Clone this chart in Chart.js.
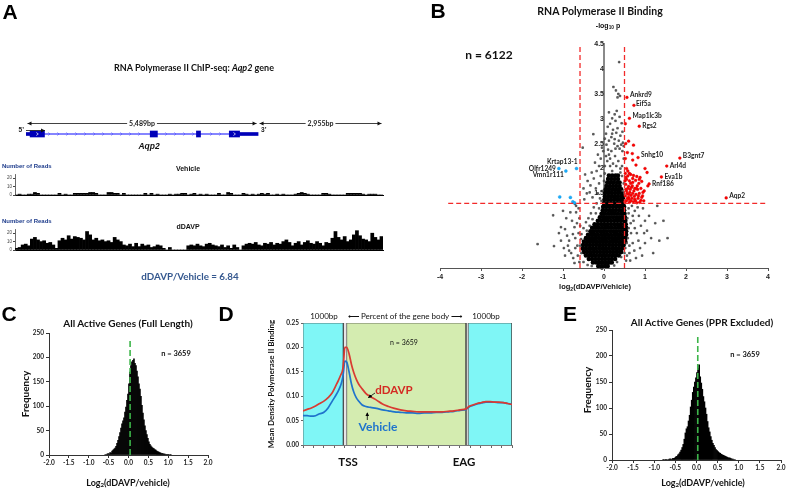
<!DOCTYPE html>
<html>
<head>
<meta charset="utf-8">
<script src="https://cdn.jsdelivr.net/npm/chart.js@4.4.1/dist/chart.umd.min.js"></script>
<style>
html,body{margin:0;padding:0;background:#fff;}
#fig{position:relative;width:787px;height:489px;overflow:hidden;background:#fff;}
#fig canvas{position:absolute;z-index:1;}
.t{position:absolute;z-index:3;white-space:nowrap;line-height:1;transform:translate(-50%,-50%);font-weight:bold;color:#111;font-family:Lato,sans-serif;}
.l{transform:translate(0,-50%);}
.ar{font-family:'Liberation Sans',Arial,sans-serif;}
.rot{transform:translate(-50%,-50%) rotate(-90deg);}
.letter{font-family:'Liberation Sans',Arial,sans-serif;font-size:21px;color:#000;}
.n{font-weight:normal;}
sub{font-size:68%;vertical-align:-0.25em;line-height:0;}
svg{position:absolute;left:0;top:0;z-index:2;}
</style>
</head>
<body>
<div id="fig">
<div class="t letter" style="left:10px;top:11px">A</div>
<div class="t letter" style="left:438px;top:10px">B</div>
<div class="t letter" style="left:9px;top:313px">C</div>
<div class="t letter" style="left:226px;top:313px">D</div>
<div class="t letter" style="left:570px;top:313px">E</div>

<div class="t" style="left:194px;top:67px;font-size:9px">RNA Polymerase II ChIP-seq: <i>Aqp2</i> gene</div>
<div class="t ar" style="left:149px;top:146px;font-size:8.5px;font-style:italic">Aqp2</div>
<div class="t ar l" style="left:2px;top:166px;font-size:6px;color:#1f3d8c">Number of Reads</div>
<div class="t ar" style="left:188px;top:168px;font-size:7px">Vehicle</div>
<div class="t ar l" style="left:2px;top:221px;font-size:6px;color:#1f3d8c">Number of Reads</div>
<div class="t ar" style="left:188px;top:225.5px;font-size:7px">dDAVP</div>
<div class="t" style="left:190px;top:277px;font-size:9.8px;color:#35588f">dDAVP/Vehicle = 6.84</div>

<div class="t" style="left:600px;top:11px;font-size:10.5px">RNA Polymerase II Binding</div>
<div class="t ar" style="left:608px;top:25px;font-size:7px">-log<sub>10</sub> p</div>
<div class="t" style="left:489px;top:55px;font-size:12px">n = 6122</div>
<div class="t ar" style="left:595px;top:287px;font-size:7.5px">log<sub>2</sub>(dDAVP/Vehicle)</div>

<div class="t" style="left:128px;top:323px;font-size:10px">All Active Genes (Full Length)</div>
<div class="t" style="left:176px;top:354px;font-size:7.5px">n = 3659</div>
<div class="t rot" style="left:25px;top:394px;font-size:10px">Frequency</div>
<div class="t" style="left:128px;top:482px;font-size:9px">Log<sub>2</sub>(dDAVP/vehicle)</div>

<div class="t n" style="left:324px;top:316px;font-size:8px">1000bp</div>
<div class="t n" style="left:405px;top:316px;font-size:8px">⟵ Percent of the gene body ⟶</div>
<div class="t n" style="left:486px;top:316px;font-size:8px">1000bp</div>
<div class="t n" style="left:404px;top:342px;font-size:7px">n = 3659</div>
<div class="t" style="left:394px;top:390px;font-size:11.5px;color:#d42a22">dDAVP</div>
<div class="t" style="left:378px;top:427px;font-size:12px;color:#1f74cc">Vehicle</div>
<div class="t" style="left:348px;top:462px;font-size:11.5px">TSS</div>
<div class="t" style="left:464px;top:462px;font-size:11.5px">EAG</div>
<div class="t rot" style="left:271px;top:384px;font-size:8px">Mean Density Polymerase II Binding</div>

<div class="t" style="left:702px;top:322px;font-size:10px">All Active Genes (PPR Excluded)</div>
<div class="t" style="left:745px;top:355px;font-size:7.5px">n = 3659</div>
<div class="t rot" style="left:587px;top:390px;font-size:10px">Frequency</div>
<div class="t" style="left:703px;top:482px;font-size:9px">Log<sub>2</sub>(dDAVP/vehicle)</div>

<svg width="787" height="489">
<defs><marker id="ah" viewBox="0 0 6 6" refX="5" refY="3" markerWidth="5" markerHeight="5" orient="auto"><path d="M0,0L6,3L0,6z" fill="#000"/></marker></defs>
<line x1="375" y1="393" x2="368.5" y2="397.5" stroke="#000" stroke-width="0.8" marker-end="url(#ah)"/>
<line x1="367.3" y1="420" x2="367.3" y2="413" stroke="#000" stroke-width="0.8" marker-end="url(#ah)"/>
</svg>
</div>
<script>
// ================= DATA =================
// Panel A: gene model (bp) and read tracks
const geneLengthBp = 5489;
const downstreamBp = 2955;
const exonRegions = [[97,437],[2938,3108],[4031,4128],[4808,5052]];
const utrRegions = [[0,97],[5052,5489]];
const intronRegions = [[437,4808]];
const vehicleReads = [0,1,0,0,1,1,3,2,0,0, 0,0,0,0,2,0,1,0,0,2, 2,2,2,2,3,3,2,0,0,0, 3,3,2,2,0,2,0,0,0,0,
  0,0,2,0,2,0,1,0,0,0, 1,0,1,1,2,2,0,1,2,0, 1,0,1,0,0,0,2,0,0,3, 2,0,0,0,2,1,0,1,0,1,
  2,1,2,0,0,1,0,1,0,0, 0,1,2,3,2,1,0,0,0,0, 2,2,1,0,0,0,0,0,2,2, 2,2,2,1,0,1,1,1,0,0];
const ddavpReads = [2,3,6,7,5,13,15,12,10,11, 8,9,6,2,11,14,12,17,13,16, 15,14,12,22,18,12,14,11,12,10,
  11,9,15,12,10,6,5,7,4,8, 4,7,5,6,3,4,6,5,2,0, 3,0,0,0,0,0,5,6,5,7, 5,4,7,8,6,5,4,6,3,5,
  2,6,3,0,5,7,8,7,9,6, 5,8,7,9,6,8,7,10,12,9, 5,8,10,6,9,11,8,7,10,8, 5,9,8,14,22,15,12,16,10,12,
  18,23,17,13,12,10,20,15,12,16];

// Panel B: volcano plot [log2 ratio, -log10 p]
const bFoldThresholds = [-0.585, 0.5];
const bPThreshold = 1.3;
const bLabeled = [
  ['Ankrd9',0.56,3.43,'up'],['Eif5a',0.73,3.27,'up'],['Map1lc3b',0.62,3.01,'up'],['Rgs2',0.86,2.85,'up'],
  ['Snhg10',0.83,2.22,'up'],['B3gnt7',1.85,2.21,'up'],['Arl4d',1.53,2.05,'up'],['Eva1b',1.40,1.83,'up'],
  ['Rnf186',1.10,1.69,'up'],['Aqp2',2.98,1.41,'up'],
  ['Krtap13-1',-0.67,2.00,'down'],['Olfr1249',-1.10,2.00,'down'],['Vmn1r111',-0.93,1.95,'down']];
const bBlue = [[-1.08,1.43],[-0.82,1.42],[-0.76,1.33],[-0.72,1.31]];
const bRed = [[0.52,2.9],[0.6,2.55],[0.53,2.5],[0.72,2.47],[0.57,2.32],[0.69,2.3],[0.7,2.17],[0.78,2.07],[1.0,2.0],[1.05,1.92],[1.07,1.65],[0.52,2.2],[0.55,2.0],
  [0.52,1.9],[0.58,1.85],[0.65,1.88],[0.72,1.86],[0.8,1.84],[0.88,1.82],[0.55,1.78],[0.62,1.75],[0.7,1.72],[0.77,1.76],[0.85,1.7],[0.92,1.74],
  [0.53,1.68],[0.6,1.64],[0.67,1.62],[0.75,1.6],[0.82,1.58],[0.9,1.6],[0.98,1.55],[0.55,1.55],[0.63,1.52],[0.7,1.5],[0.78,1.48],[0.86,1.5],
  [0.94,1.45],[0.52,1.45],[0.6,1.42],[0.68,1.4],[0.75,1.38],[0.83,1.4],[0.9,1.36],[0.97,1.35],[0.55,1.35],[0.62,1.32],[0.72,1.33],[0.8,1.31],
  [0.87,1.32],[0.58,1.6],[0.65,1.7],[0.73,1.55],[0.81,1.65],[0.57,1.4],[0.66,1.46],[0.74,1.44],[0.92,1.42],[0.95,1.52],[0.64,1.58],[0.7,1.8],
  [0.86,1.78],[0.53,1.58],[0.6,1.48],[0.77,1.35],[0.51,1.75],[0.51,1.33],[0.56,1.5],[0.69,1.65],[0.84,1.45],[0.61,1.38],[0.79,1.6],[0.66,1.35],
  [0.53,1.82],[0.58,1.95],[0.62,1.9]];
const bGray = [[0.37,4.14],[0.23,3.64],[0.29,3.57],[0.35,3.5],[0.33,3.43],[0.39,3.46],[0.12,3.13],[0.26,3.09],[0.31,3.16],[0.2,3.01],[0.38,3.04],
  [0.28,2.96],[0.15,2.9],[0.43,2.91],[0.09,2.84],[0.33,2.81],[0.22,2.78],[0.45,2.74],[0.05,2.7],[0.3,2.72],[0.4,2.66],[0.18,2.63],[0.26,2.59],
  [0.12,2.56],[0.36,2.56],[0.46,2.52],[-0.26,2.69],[-0.52,2.42],[0.02,2.6],[0.2,2.7],
  [0.02,2.05],[0.08,2.15],[0.15,2.2],[0.22,2.1],[0.3,2.05],[0.35,2.15],[0.4,2.0],[0.27,2.25],[0.18,2.35],[0.12,2.28],[0.38,2.4],[0.45,2.35],
  [0.33,2.45],[0.06,2.48],[-0.02,2.35],[-0.08,2.2],[-0.12,2.05],[0.25,2.5],[0.42,2.48],[0.48,2.2],[-0.05,2.42],[0.1,2.38],[0.28,2.4],[0.44,2.05],
  [0.05,2.25],[-0.15,2.28],[0.48,2.45],[0.15,2.05],[-0.18,1.95],[0.2,1.95],
  [-0.46,1.88],[-0.4,1.75],[-0.33,1.66],[-0.25,1.8],[-0.3,1.92],[-0.22,2.12],[-0.5,1.6],[-0.42,1.5],[-0.48,1.38],[-0.35,1.52],[-0.28,1.42],
  [-0.2,1.6],[-0.12,1.7],[-0.08,1.85],[-0.15,1.5],[-0.1,1.4],[-0.18,1.3],[-0.25,1.22],[-0.32,1.1],[-0.38,1.0],[-0.44,0.92],[-0.5,0.8],[-0.55,0.68],[-0.56,0.58],
  [-1.62,0.48],[-1.22,0.44],[-1.24,1.06],[-1.05,0.82],[-0.95,0.78],[-0.9,0.65],[-0.85,0.55],[-1.05,0.55],[-0.98,0.4],[-0.78,0.95],[-0.72,0.82],
  [-0.7,0.6],[-0.65,0.45],[-0.62,0.7],[-0.6,1.0],[-0.8,0.3],[-0.75,0.2],[-0.88,0.45],[-0.68,1.12],[-0.64,0.25],[-0.7,0.4],[-1.1,0.7],[-0.92,1.0],
  [-0.85,0.35],[-0.71,1.29],[-0.68,1.25],[-0.62,1.2],[-0.82,1.12],[-0.95,0.25],[-0.6,0.12],[-0.72,0.1],[-1.0,1.15],[-0.66,0.9],[-0.76,0.68],[-0.58,0.85],
  [1.55,0.6],[1.45,0.95],[1.25,0.9],[1.35,0.55],[1.2,0.3],[1.0,0.5],[0.9,0.85],[0.85,1.05],[0.8,0.7],[0.75,1.15],[0.7,0.5],[0.65,0.9],[0.62,0.3],
  [0.6,1.2],[0.68,1.25],[0.95,1.2],[1.1,1.05],[1.05,0.75],[0.88,0.4],[0.78,0.2],[0.72,0.95],[0.58,0.6],[0.57,1.0],[0.64,0.15],[0.82,1.22],[1.0,0.95],
  [1.15,0.6],[0.93,0.25],[0.7,1.05],[0.6,0.8],[0.62,0.45],[0.66,0.7],[0.74,0.35],[0.56,0.25],[0.84,0.55],[1.3,1.25],[0.98,0.7],[0.6,1.1],[0.75,0.8],[0.54,0.15],
  [-0.55,0.3],[-0.58,0.45],[-0.5,0.12],[-0.4,0.06],[-0.3,0.04],[0.25,0.05],[0.32,0.12],[0.42,0.22],[0.5,0.3],[0.52,0.4],[0.55,0.5],[-0.42,0.75],
  [-0.35,0.85],[-0.28,0.98],[-0.2,1.1],[-0.12,1.2],[-0.06,1.35],[-0.04,1.55],[0,1.75],[0.02,1.9],[0.45,1.55],[0.48,1.7],[0.44,1.85],[0.4,1.92]];
// dense core of the cloud: [-log10 p, [log2 ratios]]
const bCoreRows = [
  [0.04,[-0.14,-0.06,0.02,0.09]],
  [0.11,[-0.27,-0.19,-0.11,-0.03,0.05,0.13,0.19]],
  [0.18,[-0.37,-0.29,-0.21,-0.13,-0.05,0.03,0.11,0.19,0.27]],
  [0.25,[-0.44,-0.36,-0.28,-0.2,-0.12,-0.04,0.04,0.12,0.2,0.28,0.36]],
  [0.32,[-0.49,-0.41,-0.33,-0.25,-0.17,-0.09,-0.01,0.07,0.15,0.23,0.31,0.39,0.42]],
  [0.39,[-0.52,-0.44,-0.36,-0.28,-0.2,-0.12,-0.04,0.04,0.12,0.2,0.28,0.36,0.44]],
  [0.46,[-0.51,-0.43,-0.35,-0.27,-0.19,-0.11,-0.03,0.05,0.13,0.21,0.29,0.37,0.45,0.48]],
  [0.53,[-0.49,-0.41,-0.33,-0.25,-0.17,-0.09,-0.01,0.07,0.15,0.23,0.31,0.39,0.47,0.52]],
  [0.6,[-0.44,-0.36,-0.28,-0.2,-0.12,-0.04,0.04,0.12,0.2,0.28,0.36,0.44,0.52]],
  [0.67,[-0.39,-0.31,-0.23,-0.15,-0.07,0.01,0.09,0.17,0.25,0.33,0.41,0.49,0.54]],
  [0.74,[-0.33,-0.25,-0.17,-0.09,-0.01,0.07,0.15,0.23,0.31,0.39,0.47,0.54]],
  [0.81,[-0.29,-0.21,-0.13,-0.05,0.03,0.11,0.19,0.27,0.35,0.43,0.51,0.54]],
  [0.88,[-0.23,-0.15,-0.07,0.01,0.09,0.17,0.25,0.33,0.41,0.49,0.53]],
  [0.95,[-0.15,-0.07,0.01,0.09,0.17,0.25,0.33,0.41,0.49,0.52]],
  [1.02,[-0.1,-0.02,0.06,0.14,0.22,0.3,0.38,0.46,0.51]],
  [1.09,[-0.06,0.02,0.1,0.18,0.26,0.34,0.42,0.5]],
  [1.16,[-0.03,0.05,0.13,0.21,0.29,0.37,0.45,0.49]],
  [1.23,[-0.02,0.06,0.14,0.22,0.3,0.38,0.46,0.49]],
  [1.3,[0,0.08,0.16,0.24,0.32,0.4,0.48]],
  [1.37,[0.01,0.09,0.17,0.25,0.33,0.41,0.47]],
  [1.44,[0.02,0.1,0.18,0.26,0.34,0.42,0.46]],
  [1.51,[0.03,0.11,0.19,0.27,0.35,0.43]],
  [1.58,[0.04,0.12,0.2,0.28,0.36,0.42]],
  [1.65,[0.06,0.14,0.22,0.3,0.38]],
  [1.72,[0.08,0.16,0.24,0.32,0.38]],
  [1.79,[0.1,0.18,0.26,0.34]],
  [1.86,[0.12,0.2,0.28,0.34]]];

// Panel C / E histograms (bin width and first bin edge, counts per bin)
const histBinWidth = 0.025;
const cFirstBin = -0.6;
const cCounts = [1,1,2,3,2,5,4,8,10,12, 14,18,24,30,38,46,55,64,70,76, 88,98,112,125,146,170,183,191,194,197,
  188,183,172,160,146,135,120,102,86,72, 60,50,42,34,27,22,19,16,14,13, 11,10,8,7,6,5,4,3,3,2, 2,1,1,1,1,0,1];
const cMarker = 0.04;
const eFirstBin = -0.8;
const eCounts = [1,0,1,1,0,1,2,2,1,3, 3,4,6,7,10,12,15,19,24,30, 40,52,60,64,75,86,102,115,130,140,
  150,158,168,176,183,160,148,136,122,112, 100,88,74,62,54,45,38,32,28,24, 20,18,16,14,13,11,10,9,8,7, 6,5,4,4,3,2,2,1,1];
const eMarker = 0.03;

// Panel D: metagene profile
const dUpBp = [-1000,-900,-800,-700,-600,-500,-400,-300,-200,-150,-100,-50,-25,0];
const dUpDdavp = [0.070,0.073,0.076,0.080,0.085,0.090,0.097,0.107,0.124,0.133,0.143,0.155,0.175,0.200];
const dUpVehicle = [0.060,0.060,0.059,0.060,0.064,0.067,0.076,0.090,0.104,0.112,0.122,0.138,0.155,0.172];
const dBodyPct = [0,2,4,6,8,10,13,16,20,25,30,35,40,45,50,55,60,65,70,75,80,85,90,95,100];
const dBodyDdavp = [0.200,0.187,0.165,0.148,0.135,0.125,0.115,0.106,0.099,0.092,0.084,0.079,0.075,0.072,0.070,0.069,0.068,0.068,0.068,0.068,0.068,0.069,0.070,0.072,0.074];
const dBodyVehicle = [0.170,0.150,0.125,0.108,0.097,0.090,0.082,0.079,0.077,0.075,0.072,0.070,0.068,0.067,0.066,0.066,0.065,0.066,0.066,0.067,0.067,0.068,0.069,0.071,0.073];
const dDownBp = [0,100,200,300,400,500,600,700,800,900,1000];
const dDownDdavp = [0.078,0.082,0.085,0.087,0.089,0.089,0.088,0.088,0.087,0.085,0.083];
const dDownVehicle = [0.077,0.081,0.084,0.086,0.088,0.088,0.088,0.087,0.087,0.085,0.083];

// ================= SETUP =================
Chart.defaults.font.family = "Lato, 'Liberation Sans', sans-serif";
Chart.defaults.animation = false;
Chart.defaults.responsive = false;
Chart.defaults.maintainAspectRatio = false;
Chart.defaults.plugins.legend.display = false;
Chart.defaults.plugins.tooltip.enabled = false;
Chart.defaults.events = [];

function mk(left, top, w, h){
  const c = document.createElement('canvas');
  c.width = w; c.height = h;
  c.style.left = left+'px'; c.style.top = top+'px';
  c.style.width = w+'px'; c.style.height = h+'px';
  document.getElementById('fig').appendChild(c);
  return c;
}
function head(ctx, x, y, dir){
  ctx.beginPath(); ctx.moveTo(x, y); ctx.lineTo(x - dir*4, y - 2); ctx.lineTo(x - dir*4, y + 2); ctx.closePath(); ctx.fill();
}

// ---------- Panel A: gene model ----------
const genePlugin = {id:'geneDecor', afterDatasetsDraw(chart){
  const {ctx, scales:{x, y}} = chart;
  const yg = y.getPixelForValue(0.5);
  ctx.save();
  ctx.strokeStyle = '#5c5cff'; ctx.lineWidth = 0.8;
  intronRegions.forEach(([s,e])=>{
    const x1 = x.getPixelForValue(s), x2 = x.getPixelForValue(e);
    for (let px = x1 + 5; px < x2 - 2; px += 9){
      if (exonRegions.some(([a,b])=>px >= x.getPixelForValue(a)-2 && px <= x.getPixelForValue(b)+2)) continue;
      ctx.beginPath(); ctx.moveTo(px-1, yg-1.5); ctx.lineTo(px+0.5, yg); ctx.lineTo(px-1, yg+1.5); ctx.stroke();
    }
  });
  ctx.strokeStyle = '#fff'; ctx.lineWidth = 0.7;
  [exonRegions[0], exonRegions[exonRegions.length-1]].forEach(([s,e])=>{
    const m = (x.getPixelForValue(s) + x.getPixelForValue(e))/2;
    ctx.beginPath(); ctx.moveTo(m-1, yg-1.5); ctx.lineTo(m+1, yg); ctx.lineTo(m-1, yg+1.5); ctx.stroke();
  });
  // dimension arrows
  const yd = Math.round(y.getPixelForValue(0.79)) + 0.5;
  ctx.strokeStyle = '#111'; ctx.fillStyle = '#111'; ctx.lineWidth = 0.8;
  ctx.font = 'bold 7px Lato'; ctx.textAlign = 'center'; ctx.textBaseline = 'middle';
  [[0, geneLengthBp],[geneLengthBp, geneLengthBp + downstreamBp]].forEach(([s,e])=>{
    const x1 = x.getPixelForValue(s) + 1.5, x2 = x.getPixelForValue(e) - 1.5;
    ctx.beginPath(); ctx.moveTo(x1, yd); ctx.lineTo(x2, yd); ctx.stroke();
    ctx.fillStyle = '#111'; head(ctx, x1, yd, -1); head(ctx, x2, yd, 1);
    const label = (e - s).toLocaleString('en-US') + 'bp';
    const m = (x1 + x2)/2, w = ctx.measureText(label).width;
    ctx.fillStyle = '#fff'; ctx.fillRect(m - w/2 - 2, yd - 4, w + 4, 8);
    ctx.fillStyle = '#222'; ctx.fillText(label, m, yd);
  });
  // 5' / 3' and promoter arrow
  const yp = Math.round(y.getPixelForValue(0.6)) + 0.5;
  ctx.font = 'bold 6.5px "Liberation Sans"'; ctx.fillStyle = '#222';
  ctx.textAlign = 'right'; ctx.fillText('5\u2019', x.getPixelForValue(0) - 2, yp);
  ctx.textAlign = 'left'; ctx.fillText('3\u2019', x.getPixelForValue(geneLengthBp) + 3, yp);
  const xs = x.getPixelForValue(0), xe = x.getPixelForValue(450);
  ctx.strokeStyle = '#111'; ctx.beginPath(); ctx.moveTo(xs, yp); ctx.lineTo(xe, yp); ctx.stroke();
  ctx.fillStyle = '#111'; head(ctx, xe, yp, 1);
  ctx.restore();
}};
new Chart(mk(0, 105, 400, 58), {
  type:'bar',
  data:{datasets:[
    {data: exonRegions.map(r=>({x:r, y:0.5})), backgroundColor:'#0000b8', barThickness:6, grouped:false},
    {data: utrRegions.map(r=>({x:r, y:0.5})), backgroundColor:'#0000b8', barThickness:3, grouped:false},
    {data: intronRegions.map(r=>({x:r, y:0.5})), backgroundColor:'#5c5cff', barThickness:1, grouped:false}
  ]},
  options:{indexAxis:'y', layout:{padding:{left:26, right:17, top:0, bottom:0}},
    scales:{x:{type:'linear', min:0, max:geneLengthBp + downstreamBp, display:false},
            y:{type:'linear', min:0, max:1, display:false}}},
  plugins:[genePlugin]
});

// ---------- Panel A: read tracks ----------
function trackChart(cv, reads){
  return new Chart(cv, {
    type:'bar',
    data:{labels: reads.map((_, i)=>String(i)),
      datasets:[{data: reads, backgroundColor:'#000', borderWidth:0, barPercentage:1, categoryPercentage:1}]},
    options:{layout:{padding:{left:0, right:17, top:4, bottom:0}},
      scales:{
        x:{grid:{display:false}, border:{display:true, color:'#000', width:1}, ticks:{display:false}, afterFit:s=>{s.height = 5;}},
        y:{min:0, max:25, ticks:{stepSize:5, font:{size:4.5, family:'Liberation Sans'}, color:'#444', padding:1},
           grid:{drawOnChartArea:false, tickLength:2, color:'#444'}, border:{color:'#444', width:0.8}, afterFit:s=>{s.width = 15;}}
      }}
  });
}
trackChart(mk(0, 170, 400, 30), vehicleReads);
trackChart(mk(0, 225, 400, 30), ddavpReads);

// ---------- Panel B: volcano ----------
const bLabelStyle = {'Krtap13-1':['right',1,-7], 'Olfr1249':['right',-3,0], 'Vmn1r111':['right',-2,3.5],
  'Rgs2':['left',3,0], 'Arl4d':['left',3,0], 'Eva1b':['left',3,0], 'Rnf186':['left',3,-0.5], 'Eif5a':['left',2,-1]};
const bLabelPlugin = {id:'bLabels', afterDatasetsDraw(chart){
  const {ctx, scales:{x, y}} = chart;
  ctx.save();
  ctx.font = 'bold 6.6px Lato'; ctx.fillStyle = '#222'; ctx.textBaseline = 'middle';
  bLabeled.forEach(([name, vx, vy])=>{
    const st = bLabelStyle[name] || ['left',3,-2.5];
    ctx.textAlign = st[0];
    ctx.fillText(name, x.getPixelForValue(vx) + st[1], y.getPixelForValue(vy) + st[2]);
  });
  ctx.restore();
}};
const toPts = a => a.map(([x, y])=>({x, y}));
const bCore = bCoreRows.flatMap(([yy, xs])=>xs.map(xx=>({x:xx, y:yy})));
const dashStyle = {showLine:true, borderColor:'#f22a2a', borderWidth:1.3, borderDash:[5,3], pointRadius:0, backgroundColor:'#f22a2a'};
new Chart(mk(420, 35, 367, 250), {
  type:'scatter',
  data:{datasets:[
    Object.assign({data:[{x:-3.8, y:bPThreshold},{x:4, y:bPThreshold}]}, dashStyle),
    Object.assign({data:[{x:bFoldThresholds[0], y:0},{x:bFoldThresholds[0], y:4.5}]}, dashStyle),
    Object.assign({data:[{x:bFoldThresholds[1], y:0},{x:bFoldThresholds[1], y:4.5}]}, dashStyle),
    {data: toPts(bBlue).concat(bLabeled.filter(r=>r[3]==='down').map(r=>({x:r[1], y:r[2]}))), pointRadius:1.5, backgroundColor:'#19aeff', borderColor:'#0c8fd8', borderWidth:0.4},
    {data: toPts(bRed).concat(bLabeled.filter(r=>r[3]==='up').map(r=>({x:r[1], y:r[2]}))), pointRadius:1.4, backgroundColor:'#ff0000', borderColor:'#d00000', borderWidth:0.4},
    {data: toPts(bGray), pointStyle:'rect', pointRadius:1.2, backgroundColor:'#808080', borderColor:'#111', borderWidth:0.5},
    {data: bCore, pointRadius:2.3, backgroundColor:'#000', borderWidth:0}
  ]},
  options:{layout:{padding:{left:20, right:19, top:8, bottom:0}},
    scales:{
      x:{type:'linear', min:-4, max:4, position:'bottom',
         ticks:{stepSize:1, font:{size:7, weight:'bold', family:'Liberation Sans'}, color:'#222', padding:2},
         grid:{drawOnChartArea:false, tickLength:3, color:'#555'}, border:{color:'#555', width:1}, afterFit:s=>{s.height = 17;}},
      y:{type:'linear', min:0, max:4.5, position:{x:0},
         ticks:{stepSize:0.5, callback:v=>String(Math.round(v*10)/10), font:{size:7, weight:'bold', family:'Liberation Sans'}, color:'#222', padding:5},
         grid:{display:false}, border:{display:true, color:'#8a8a8a', width:2}, afterFit:s=>{s.width = 0;}}
    }},
  plugins:[bLabelPlugin]
});

// ---------- Panels C / E: histograms ----------
function histChart(cv, firstBin, counts, marker, pad, yw, xh){
  const pts = counts.map((c, i)=>({x: Math.round((firstBin + histBinWidth*(i + 0.5))*10000)/10000, y: c}));
  return new Chart(cv, {
    type:'bar',
    data:{datasets:[
      {type:'line', data:[{x:marker, y:0},{x:marker, y:240}], borderColor:'#3db54a', borderWidth:1.6, borderDash:[6,3], pointRadius:0},
      {data: pts, backgroundColor:'#000', borderWidth:0, barPercentage:1, categoryPercentage:1}
    ]},
    options:{layout:{padding:pad},
      scales:{
        x:{type:'linear', min:-2, max:2, offset:false,
           grid:{offset:false, drawOnChartArea:false, tickLength:3, color:'#333'}, border:{color:'#333'},
           ticks:{stepSize:0.5, autoSkip:false, maxRotation:0, callback:v=>v.toFixed(1), font:{size:6.5, weight:'bold'}, color:'#222', padding:1},
           afterFit:s=>{s.height = xh;}},
        y:{min:0, max:250, ticks:{stepSize:50, font:{size:6.5, weight:'bold'}, color:'#222', padding:2},
           grid:{drawOnChartArea:false, tickLength:3, color:'#333'}, border:{color:'#333'}, afterFit:s=>{s.width = yw;}}
      }}
  });
}
histChart(mk(20, 325, 195, 150), cFirstBin, cCounts, cMarker, {top:8, right:7, left:0, bottom:0}, 29, 20);
histChart(mk(585, 322, 202, 153), eFirstBin, eCounts, eMarker, {top:8, right:6, left:0, bottom:0}, 27, 15);

// ---------- Panel D: metagene ----------
// plot layout: upstream flank -> [0,20], gene body -> [20.9,78], downstream flank -> [79.1,100]
const uUp = b => 20*(b + 1000)/1000;
const uBody = p => 20.9 + 0.571*p;
const uDown = d => 79.1 + 0.0209*d;
function profile(up, body, down){
  return dUpBp.map((b, i)=>({x:uUp(b), y:up[i]}))
    .concat(dBodyPct.map((p, i)=>({x:uBody(p), y:body[i]})))
    .concat(dDownBp.map((d, i)=>({x:uDown(d), y:down[i]})));
}
const zone = (x1, x2, color, bw)=>({data:[{x:x1,y:0},{x:x1,y:0.25},{x:x2,y:0.25},{x:x2,y:0}], fill:'origin',
  backgroundColor:color, borderColor:bw ? '#444' : color, borderWidth:bw, pointRadius:0, tension:0});
new Chart(mk(285, 315, 230, 140), {
  type:'line',
  data:{datasets:[
    {data: profile(dUpDdavp, dBodyDdavp, dDownDdavp), borderColor:'#d93b32', borderWidth:1.7, pointRadius:0, cubicInterpolationMode:'monotone', fill:false},
    {data: profile(dUpVehicle, dBodyVehicle, dDownVehicle), borderColor:'#1f74cc', borderWidth:1.7, pointRadius:0, cubicInterpolationMode:'monotone', fill:false},
    zone(uUp(-1000), 19.3, '#7ff6f6', 0.7),
    zone(uBody(0), uBody(100), '#d4ecb0', 0.7),
    zone(uDown(0), uDown(1000), '#7ff6f6', 0.7),
    zone(19.3, uBody(0), '#e6e6e6', 0),
    zone(uBody(100), uDown(0), '#e6e6e6', 0)
  ]},
  options:{layout:{padding:{top:8, right:3, left:0, bottom:0}},
    scales:{
      x:{type:'linear', min:0, max:100, ticks:{stepSize:5, display:false},
         grid:{drawOnChartArea:false, tickLength:3, color:'#666'}, border:{color:'#777'}, afterFit:s=>{s.height = 10;}},
      y:{min:0, max:0.25, ticks:{stepSize:0.05, callback:v=>v.toFixed(2), font:{size:6.5, weight:'bold'}, color:'#222', padding:2},
         grid:{drawOnChartArea:false, tickLength:2, color:'#666'}, border:{color:'#777'}, afterFit:s=>{s.width = 18;}}
    }}
});
</script>
</body>
</html>
